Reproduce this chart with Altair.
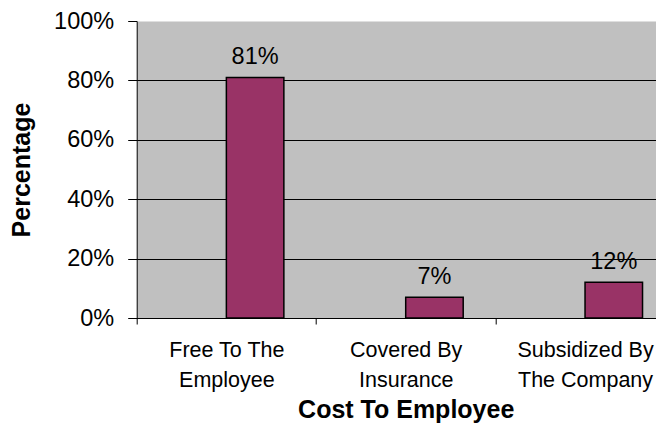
import altair as alt
import pandas as pd

categories = ["Free To The\nEmployee", "Covered By\nInsurance", "Subsidized By\nThe Company"]
values = [81, 7, 12]
y_ticks = [0, 20, 40, 60, 80, 100]

df = pd.DataFrame({"category": categories, "pct": values})

FONT = "Liberation Sans"

x = alt.X(
    "category:N",
    sort=categories,
    title="Cost To Employee",
    scale=alt.Scale(paddingInner=0, paddingOuter=0),
    axis=alt.Axis(
        labelAngle=0,
        labelExpr="split(datum.label, '\\n')",
        labelFont=FONT,
        labelFontSize=21.5,
        labelColor="black",
        labelLineHeight=30,
        labelPadding=15,
        tickBand="extent",
        tickSize=6,
        tickColor="black",
        domainColor="black",
        titleFont=FONT,
        titleFontSize=25,
        titleFontWeight="bold",
        titleColor="black",
        titleY=99,
        titleBaseline="alphabetic",
    ),
)

y = alt.Y(
    "pct:Q",
    title="Percentage",
    scale=alt.Scale(domain=[0, 100], nice=False, zero=True),
    axis=alt.Axis(
        values=y_ticks,
        labelExpr="datum.value + '%'",
        labelFont=FONT,
        labelFontSize=23.5,
        labelColor="black",
        labelPadding=14,
        tickSize=9,
        tickColor="black",
        domainColor="black",
        grid=True,
        gridColor="black",
        gridOpacity={"condition": {"test": "datum.value >= 100", "value": 0}, "value": 1},
        titleFont=FONT,
        titleFontSize=25,
        titleFontWeight="bold",
        titleColor="black",
        titleX=-107.2,
        titleBaseline="alphabetic",
    ),
)

bars = alt.Chart(df).mark_bar(
    color="#993366", stroke="black", strokeWidth=1.5, width=57.5, xOffset=28.75
).encode(x=x, y=y)

labels = alt.Chart(df).transform_calculate(
    label="datum.pct + '%'"
).mark_text(
    font=FONT, fontSize=23.5, color="black", baseline="alphabetic", dy=-13.5, dx=28.75
).encode(x=x, y=y, text="label:N")

chart = alt.layer(bars, labels).properties(
    width=538,
    height=297,
    autosize=alt.AutoSizeParams(type="none"),
    padding={"left": 128.7, "top": 13, "right": -18.7, "bottom": 105},
).configure_view(fill="#C0C0C0", stroke="transparent")

chart.save("out.html", embed_options={"renderer": "svg", "actions": False})
